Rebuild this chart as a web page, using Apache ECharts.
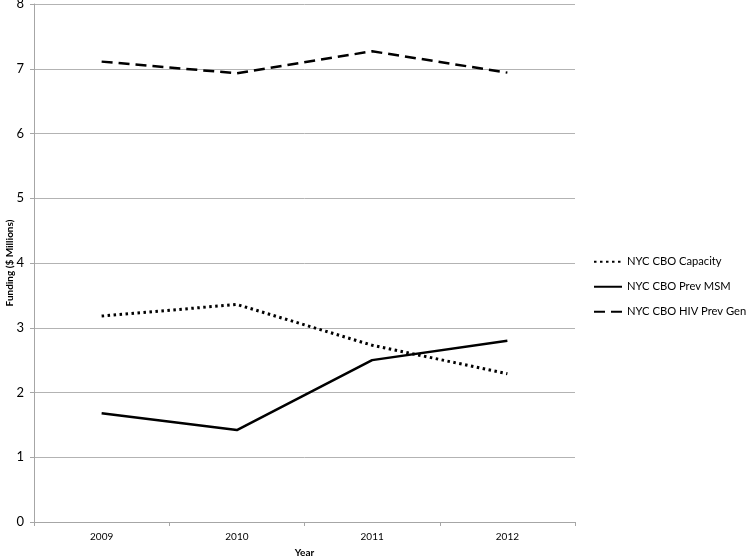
<!DOCTYPE html>
<html><head><meta charset="utf-8">
<script src="https://cdn.jsdelivr.net/npm/echarts@6/dist/echarts.min.js"></script>
<style>html,body{margin:0;padding:0;background:#fff}#c{width:746px;height:558px}</style>
</head><body><div id="c"></div>
<script>
const years = ['2009', '2010', '2011', '2012'];
const capacity = [3.18, 3.36, 2.73, 2.29];
const prevMSM = [1.68, 1.42, 2.50, 2.80];
const hivPrevGen = [7.11, 6.93, 7.27, 6.94];
const seriesNames = ['NYC CBO Capacity', 'NYC CBO Prev MSM', 'NYC CBO HIV Prev Gen'];

const font = 'Lato, "Open Sans", sans-serif';
const chart = echarts.init(document.getElementById('c'));
function mk(name, data, type, width) {
  return {
    name, type: 'line', data, symbol: 'none', animation: false,
    lineStyle: { color: '#000', width: width, type: type, cap: 'butt' },
    itemStyle: { color: '#000' }
  };
}
chart.setOption({
  animation: false,
  grid: { left: 34, right: 171, top: 4, bottom: 36, containLabel: false, outerBoundsMode: 'none' },
  legend: {
    orient: 'vertical', left: 588, top: 249, itemWidth: 28, itemHeight: 14, itemGap: 9.5,
    itemStyle: { opacity: 0 },
    textStyle: { fontFamily: font, fontSize: 11.2, color: '#000', lineHeight: 15.5 },
    data: seriesNames
  },
  xAxis: {
    type: 'category', data: years, boundaryGap: true,
    name: 'Year', nameLocation: 'middle', nameGap: 26, nameMoveOverlap: false,
    nameTextStyle: { fontFamily: font, fontSize: 10, fontWeight: 'bold', color: '#000' },
    axisLine: { lineStyle: { color: '#a6a6a6' } },
    axisTick: { show: true, length: 4, lineStyle: { color: '#a6a6a6' } },
    axisLabel: { fontFamily: font, fontSize: 10, color: '#000', margin: 10 }
  },
  yAxis: {
    type: 'value', min: 0, max: 8, interval: 1,
    name: 'Funding ($ Millions)', nameLocation: 'middle', nameGap: 19, nameRotate: 90, nameMoveOverlap: false,
    nameTextStyle: { fontFamily: font, fontSize: 10, fontWeight: 'bold', color: '#000' },
    axisLine: { show: true, lineStyle: { color: '#a6a6a6' } },
    axisTick: { show: true, length: 4, lineStyle: { color: '#a6a6a6' } },
    axisLabel: { fontFamily: font, fontSize: 13, color: '#000', margin: 10 },
    splitLine: { lineStyle: { color: '#b3b3b3' } }
  },
  series: [
    mk(seriesNames[0], capacity, [2.5, 3.5], 3),
    mk(seriesNames[1], prevMSM, 'solid', 2.5),
    mk(seriesNames[2], hivPrevGen, [11, 6], 2.5)
  ]
});
</script></body></html>
